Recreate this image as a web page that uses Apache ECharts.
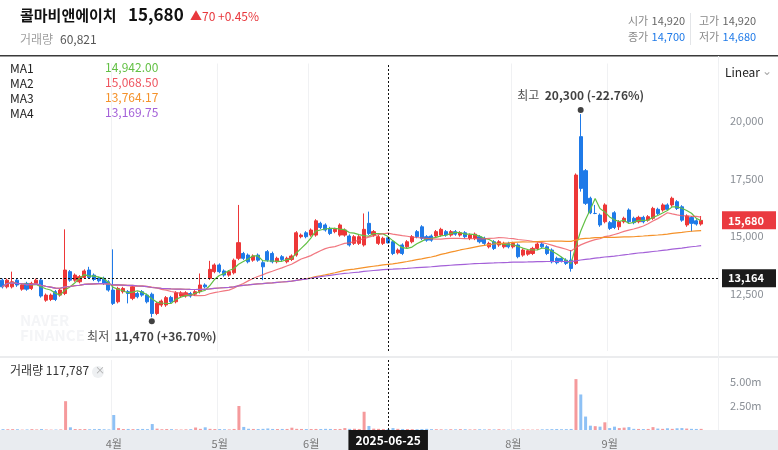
<!DOCTYPE html>
<html>
<head>
<meta charset="utf-8" />
<title>콜마비앤에이치</title>
<script src="https://cdn.jsdelivr.net/npm/echarts@6/dist/echarts.min.js"></script>
<style>
  html, body { margin: 0; padding: 0; background: #fff; }
  #chart { width: 778px; height: 450px; }
</style>
</head>
<body>
<div id="chart"></div>
<script>
// 일봉 데이터
var opens = [
  13080,12790,12790,13080,12690,12940,12720,12940,13080,12210,
  12240,12580,12430,12500,13450,13080,13010,13200,13520,13300,
  13160,13160,13010,12650,12140,12580,12580,12290,12500,12580,
  12430,12470,11630,12000,12000,12330,12140,12390,12390,12500,
  12470,12580,12870,13160,13450,13740,13480,13300,13400,14030,
  14240,14170,13950,14170,13840,14320,14240,13880,14100,13880,
  13980,14170,14970,15140,15040,15040,15550,15480,15330,15190,
  15040,15040,15000,14680,14680,14610,15550,15040,14680,14680,
  14920,14750,14270,14610,14530,14750,15190,15400,14970,15000,
  15000,15040,15190,15040,15190,15040,15140,14900,14900,14970,
  14900,14530,14750,14610,14530,14680,14530,14610,14170,14210,
  14240,14460,14650,14530,14390,14030,14030,13950,13950,13810,
  19320,17840,16640,15980,15910,15620,15580,16010,15400,15620,
  16130,15770,15620,15810,15690,15770,16160,16130,16350,16350,
  16490,16270,15480,15800,15660,15520
];
var closes = [
  12790,13080,13010,12870,12870,12690,12940,13080,12390,12430,
  12430,12240,12650,13520,13080,13300,13230,13480,13200,13110,
  13050,12940,12650,12070,12720,12720,12500,12790,12360,12430,
  12140,11630,12070,12170,12320,12140,12530,12530,12530,12390,
  12580,12870,12790,13550,13740,13450,13300,13450,13950,14710,
  14030,13880,14130,13950,13660,13950,13880,14030,13980,14030,
  14130,15140,15040,14970,15260,15660,15370,15260,15110,15290,
  15480,15260,14610,14970,14970,15290,15110,15190,14970,14900,
  14700,14240,14390,14240,14750,14970,14970,14900,14820,14820,
  15190,15290,15040,15190,15080,15140,14970,15040,15080,14750,
  14680,14680,14460,14750,14680,14530,14680,14100,14390,14360,
  14460,14650,14530,14240,13880,13840,13920,13810,13590,17650,
  17070,16420,16010,15980,15480,16350,15330,15370,15620,15770,
  15620,15580,15810,15620,15840,16200,15980,16350,16160,16640,
  16200,15690,15870,15550,15520,15680
];
var lows = [
  12720,12720,12720,12790,12620,12620,12650,12870,12320,12140,
  12170,12170,12360,12430,13010,13010,12940,13130,13130,13040,
  12980,12870,12580,12000,12070,12500,12070,12210,12290,12360,
  12070,11470,11560,11920,11920,12070,12070,12320,12320,12320,
  12400,12500,12720,13090,13380,13380,13230,13230,13330,13950,
  13960,13810,13880,13880,13080,13880,13810,13810,13910,13810,
  13910,14100,14900,14900,14970,14970,15300,15190,15040,15120,
  14970,14970,14540,14610,14610,14540,15040,14970,14610,14610,
  14680,14170,14200,14170,14460,14680,14900,14820,14750,14750,
  14930,14970,14970,14970,15010,14970,14900,14820,14820,14680,
  14610,14460,14390,14530,14460,14460,14460,14030,14100,14140,
  14170,14390,14460,14170,13810,13770,13850,13740,13450,13740,
  16930,16350,15950,15950,15400,15550,15260,15300,15260,15550,
  15550,15510,15550,15550,15620,15700,15910,16060,16090,16270,
  16130,15620,15400,15190,15450,15450
];
var highs = [
  13150,13150,13450,13150,12940,13010,13010,13150,13150,12500,
  12500,12650,12720,15290,13520,13370,13300,13550,13660,13370,
  13230,13230,13080,14420,12790,12790,12650,12870,12580,12650,
  12500,12540,12140,12240,12390,12400,12600,12600,12600,12570,
  12650,13370,12940,13920,13810,13810,13550,13520,14020,16350,
  14310,14240,14200,14240,13910,14390,14320,14100,14170,14100,
  14200,15210,15110,15210,15330,15730,15620,15550,15400,15360,
  15550,15330,15070,15040,15040,15980,16060,15260,15040,14970,
  14920,14820,14460,14680,14820,15040,15260,15470,15040,15070,
  15260,15360,15260,15260,15260,15210,15210,15110,15150,15040,
  14970,14750,14820,14820,14750,14750,14750,14680,14460,14430,
  14530,14720,14720,14600,14460,14100,14100,14030,14390,17720,
  20300,17910,16710,16350,15980,16420,15650,16080,15690,15840,
  16200,15840,15880,15880,15910,16270,16230,16420,16420,16710,
  16560,16340,15940,15870,15730,15870
];
// 거래량 (천주)
var volumes = [
  90,80,90,80,40,60,90,60,100,50,
  40,50,60,3000,280,100,90,100,80,90,
  100,80,60,1560,200,100,110,90,100,110,
  90,620,140,80,100,90,60,50,70,90,
  260,120,280,120,100,100,80,60,110,2500,
  320,130,110,100,120,160,110,100,110,110,
  240,120,110,100,100,110,100,120,110,100,
  110,200,120,130,110,1900,420,140,120,110,
  100,200,120,110,100,90,80,100,120,90,
  80,70,60,80,70,90,80,60,70,80,
  60,70,60,80,50,40,30,40,60,50,
  40,50,70,80,90,100,80,90,110,5300,
  3700,1400,450,400,350,800,200,350,200,250,
  300,120,110,100,110,300,150,120,180,120,
  180,200,150,120,110,118
];
var maWindows = [5, 20, 60, 120];
var maNames = ['MA1', 'MA2', 'MA3', 'MA4'];
var maColors = ['#62c044', '#ee5560', '#f5922a', '#a461d8'];
var maLegendValues = ['14,942.00', '15,068.50', '13,764.17', '13,169.75'];
var monthTicks = { 23: '4월', 45: '5월', 64: '6월', 106: '8월', 126: '9월' };
var padDays = 3;
var hoverIndex = 80;
var hoverDate = '2025-06-25';
var hoverLevel = 13164;

var UP = '#ed3738', DOWN = '#1f7ae8';
var font = '"Noto Sans CJK KR", "Noto Sans", sans-serif';

var n = closes.length;
var cats = [];
for (var i = 0; i < n + padDays; i++) cats.push('d' + i);

var kData = [];
var volData = [];
for (var i = 0; i < n; i++) {
  kData.push([opens[i], closes[i], lows[i], highs[i]]);
  volData.push({
    value: volumes[i] * 1000,
    itemStyle: { color: closes[i] >= opens[i] ? '#f59a9c' : '#8ec1f5' }
  });
}

function calcMA(w) {
  var out = [];
  for (var i = 0; i < n; i++) {
    var s = 0, c = 0;
    for (var j = Math.max(0, i - w + 1); j <= i; j++) { s += closes[j]; c++; }
    out.push(Math.round(s / c));
  }
  return out;
}

var maxI = 0, minI = 0;
for (var i = 0; i < n; i++) {
  if (highs[i] > highs[maxI]) maxI = i;
  if (lows[i] < lows[minI]) minI = i;
}
var last = closes[n - 1];
function fmt(v) { return v.toLocaleString('en-US'); }
function pct(v) { var p = (last / v - 1) * 100; return (p >= 0 ? '+' : '') + p.toFixed(2) + '%'; }

var tagLabel = { show: true, position: 'end', distance: 4, color: '#fff', padding: [4, 6, 3, 6],
                 fontSize: 11, fontWeight: 'bold', fontFamily: font, width: 42 };

var series = [{
  type: 'candlestick',
  data: kData,
  barWidth: 3.6,
  itemStyle: { color: UP, color0: DOWN, borderColor: UP, borderColor0: DOWN, borderWidth: 1 },
  markLine: {
    silent: true, symbol: 'none', animation: false,
    data: [
      { xAxis: cats[hoverIndex], lineStyle: { color: '#111', type: [2, 2], width: 1 }, label: { show: false } },
      { yAxis: hoverLevel, lineStyle: { color: '#111', type: [2, 2], width: 1 },
        label: Object.assign({}, tagLabel, { formatter: fmt(hoverLevel), backgroundColor: '#1b1b1b' }) },
      { yAxis: last, lineStyle: { color: 'rgba(0,0,0,0)', width: 0.1 },
        label: Object.assign({}, tagLabel, { formatter: fmt(last), backgroundColor: '#ea3a40' }) }
    ]
  }
}];
for (var k = 0; k < 4; k++) {
  series.push({
    type: 'line', name: maNames[k], data: calcMA(maWindows[k]), showSymbol: false,
    lineStyle: { color: maColors[k], width: 1.2, opacity: k === 1 ? 0.8 : 1 }, z: 3
  });
}
series.push({
  type: 'scatter', symbolSize: 6, itemStyle: { color: '#111' }, z: 5,
  data: [
    { value: [maxI, highs[maxI]], symbolOffset: [0, -4],
      label: { show: true, position: 'top', distance: 6, formatter: '{a|최고}  {b|' + fmt(highs[maxI]) + ' (' + pct(highs[maxI]) + ')}' } },
    { value: [minI, lows[minI]], symbolOffset: [0, 4],
      label: { show: true, position: 'bottom', distance: 6, formatter: '{a|최저}  {b|' + fmt(lows[minI]) + ' (' + pct(lows[minI]) + ')}' } }
  ],
  label: { rich: { a: { fontSize: 12, color: '#222', fontFamily: font }, b: { fontSize: 12, color: '#111', fontWeight: 'bold', fontFamily: font } } }
});
series.push({
  type: 'bar', xAxisIndex: 1, yAxisIndex: 1, data: volData, barWidth: 3,
  markLine: {
    silent: true, symbol: 'none', animation: false,
    data: [{ xAxis: cats[hoverIndex], lineStyle: { color: '#111', type: [2, 2], width: 1 },
      label: { show: true, position: 'start', distance: 0, formatter: hoverDate, color: '#fff', backgroundColor: '#161616',
               padding: [4, 7, 4, 7], fontSize: 12, fontWeight: 'bold', fontFamily: font } }]
  }
});

var chart = echarts.init(document.getElementById('chart'));
chart.setOption({
  animation: false,
  textStyle: { fontFamily: font },
  grid: [
    { left: 0, right: 60, top: 63.5, bottom: 99 },
    { left: 0, right: 60, top: 360, bottom: 20 }
  ],
  xAxis: [
    { type: 'category', data: cats, gridIndex: 0, boundaryGap: true,
      axisLine: { show: false }, axisTick: { show: false }, axisLabel: { show: false },
      splitLine: { show: true, interval: function (i) { return monthTicks[i] !== undefined; }, lineStyle: { color: '#f0f1f3' } } },
    { type: 'category', data: cats, gridIndex: 1, boundaryGap: true,
      axisLine: { show: false }, axisTick: { show: false },
      axisLabel: { interval: 0, margin: 8, color: '#777', fontSize: 11,
                   formatter: function (v, i) { return monthTicks[i] || ''; } },
      splitLine: { show: true, interval: function (i) { return monthTicks[i] !== undefined; }, lineStyle: { color: '#f0f1f3' } } }
  ],
  yAxis: [
    { type: 'value', gridIndex: 0, position: 'right', min: 10000, max: 22500, interval: 2500,
      axisLine: { show: false }, axisTick: { show: false }, splitLine: { show: false },
      axisLabel: { color: '#8a8f96', fontSize: 11, margin: 12,
                   formatter: function (v) { return (v >= 12500 && v <= 20000) ? fmt(v) : ''; } } },
    { type: 'value', gridIndex: 1, position: 'right', min: 0, max: 7290000, interval: 2500000,
      axisLine: { show: false }, axisTick: { show: false }, splitLine: { show: false },
      axisLabel: { color: '#8a8f96', fontSize: 11, margin: 12,
                   formatter: function (v) { return (v > 0 && v < 7000000) ? (v / 1e6).toFixed(2) + 'm' : ''; } } }
  ],
  graphic: [
    { type: 'rect', z: -10, shape: { x: 0, y: 430, width: 778, height: 20 }, style: { fill: '#e9ecf0' } },
    { type: 'rect', z: -10, shape: { x: 0, y: 55, width: 778, height: 1.5 }, style: { fill: '#3a3a3a' } },
    { type: 'rect', z: -10, shape: { x: 0, y: 356.5, width: 778, height: 1 }, style: { fill: '#d7dade' } },
    { type: 'rect', z: -10, shape: { x: 718, y: 56, width: 1, height: 374 }, style: { fill: '#eef0f2' } },
    { type: 'text', left: 20, top: 8, style: { text: '콜마비앤에이치', font: 'bold 15px ' + font, fill: '#111' } },
    { type: 'text', left: 128, top: 6, style: { text: '15,680', font: 'bold 17px ' + font, fill: '#111' } },
    { type: 'text', left: 190, top: 10, style: { text: '▲70 +0.45%', font: '12px ' + font, fill: '#e8383d' } },
    { type: 'text', left: 20, top: 33, style: { text: '거래량', font: '12px ' + font, fill: '#a0a0a0' } },
    { type: 'text', left: 60, top: 33, style: { text: '60,821', font: '12px ' + font, fill: '#555' } },
    { type: 'text', left: 628, top: 15, style: { text: '{a|시가} {b|14,920}', rich: { a: { fill: '#888', font: '11px ' + font }, b: { fill: '#666', font: '11px ' + font } } } },
    { type: 'text', left: 699, top: 15, style: { text: '{a|고가} {b|14,920}', rich: { a: { fill: '#888', font: '11px ' + font }, b: { fill: '#666', font: '11px ' + font } } } },
    { type: 'text', left: 628, top: 31, style: { text: '{a|종가} {b|14,700}', rich: { a: { fill: '#888', font: '11px ' + font }, b: { fill: '#1f7ae8', font: '11px ' + font } } } },
    { type: 'text', left: 699, top: 31, style: { text: '{a|저가} {b|14,680}', rich: { a: { fill: '#888', font: '11px ' + font }, b: { fill: '#1f7ae8', font: '11px ' + font } } } },
    { type: 'rect', shape: { x: 690, y: 13, width: 1, height: 32 }, style: { fill: '#e3e5e8' } },
    { type: 'text', left: 725, top: 66, style: { text: 'Linear', font: '12px ' + font, fill: '#222' } },
    { type: 'text', left: 762, top: 64, style: { text: '⌄', font: '12px ' + font, fill: '#aaa' } },
    { type: 'text', left: 10, top: 61, style: { text: 'MA1\nMA2\nMA3\nMA4', font: '12px ' + font, fill: '#222', lineHeight: 15 } },
    { type: 'text', left: 105, top: 61, style: { text: maLegendValues[0], font: '12px ' + font, fill: maColors[0] } },
    { type: 'text', left: 105, top: 76, style: { text: maLegendValues[1], font: '12px ' + font, fill: maColors[1] } },
    { type: 'text', left: 105, top: 91, style: { text: maLegendValues[2], font: '12px ' + font, fill: maColors[2] } },
    { type: 'text', left: 105, top: 106, style: { text: maLegendValues[3], font: '12px ' + font, fill: maColors[3] } },
    { type: 'text', left: 20, top: 313, z: -5, style: { text: 'NAVER\nFINANCE', font: 'bold 15px ' + font, fill: '#f4f5f7', lineHeight: 15 } },
    { type: 'text', left: 10, top: 364, style: { text: '거래량 117,787', font: '12px ' + font, fill: '#333' } },
    { type: 'circle', shape: { cx: 98, cy: 372, r: 6 }, style: { fill: '#eef0f2' } },
    { type: 'text', left: 95, top: 365, style: { text: '×', font: '10px ' + font, fill: '#aaa' } }
  ],
  series: series
});
</script>
</body>
</html>
